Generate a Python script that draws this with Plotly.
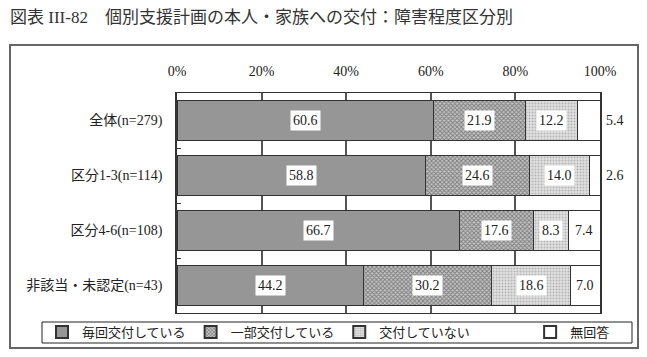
import plotly.graph_objects as go

categories = ["全体(n=279)", "区分1-3(n=114)", "区分4-6(n=108)", "非該当・未認定(n=43)"]
series_names = ["毎回交付している", "一部交付している", "交付していない", "無回答"]
every_time = [60.6, 58.8, 66.7, 44.2]
partial = [21.9, 24.6, 17.6, 30.2]
not_given = [12.2, 14.0, 8.3, 18.6]
no_answer = [5.4, 2.6, 7.4, 7.0]
x_ticks = [0, 20, 40, 60, 80, 100]
x_tick_labels = ["0%", "20%", "40%", "60%", "80%", "100%"]
title_text = "図表 III-82　個別支援計画の本人・家族への交付：障害程度区分別"

series_values = [every_time, partial, not_given, no_answer]

W, H = 647, 357
PL, PR, PT, PB = 177, 600, 93, 313
pw, ph = PR - PL, PB - PT

def px(x):
    return (x - PL) / pw

def py(y):
    return (PB - y) / ph

SERIF = "Liberation Serif, 'Noto Sans CJK JP', serif"

styles = [
    dict(color="#969696", pattern=None),
    dict(color="white", pattern=dict(shape="x", fgcolor="#333333", bgcolor="#c4c4c4", size=3, solidity=0.5)),
    dict(color="white", pattern=dict(shape=".", fgcolor="#8a8a8a", bgcolor="#e0e0e0", size=3, solidity=0.35)),
    dict(color="white", pattern=None),
]

fig = go.Figure()
legend_names = [series_names[0], series_names[1],
                series_names[2] + "\u3000\u3000\u3000\u3000\u00a0",
                series_names[3]]
for name, lname, vals, st in zip(series_names, legend_names, series_values, styles):
    marker = dict(color=st["color"], line=dict(color="#333333", width=1))
    if st["pattern"]:
        marker["pattern"] = st["pattern"]
    fig.add_trace(go.Bar(
        y=categories, x=vals, name=lname, orientation="h",
        marker=marker, width=0.72, hoverinfo="skip"))

annotations = []
for ci, cat in enumerate(categories):
    cum = 0.0
    for si, vals in enumerate(series_values):
        v = vals[ci]
        mid = cum + v / 2
        if si == 3 and v < 6:
            annotations.append(dict(x=100, y=cat, xref="x", yref="y", text=f"{v:.1f}",
                                    showarrow=False, xanchor="left", xshift=4,
                                    font=dict(family=SERIF, size=14, color="#222")))
        else:
            annotations.append(dict(x=mid, y=cat, xref="x", yref="y", text=f"{v:.1f}",
                                    showarrow=False, bgcolor="white", borderpad=2,
                                    font=dict(family=SERIF, size=14, color="#222")))
        cum += v

annotations.append(dict(x=px(8), y=py(17), xref="paper", yref="paper", text=title_text,
                        showarrow=False, xanchor="left", yanchor="middle",
                        font=dict(family=SERIF, size=17, color="#333")))

shapes = [
    dict(type="rect", xref="paper", yref="paper",
         x0=px(10), x1=px(638), y0=py(348), y1=py(45),
         line=dict(color="#666666", width=2), fillcolor="rgba(0,0,0,0)", layer="below"),
    dict(type="rect", xref="paper", yref="paper",
         x0=px(42), x1=px(632), y0=py(343), y1=py(322),
         line=dict(color="#222222", width=1), fillcolor="rgba(0,0,0,0)", layer="above"),
]

fig.update_layout(
    width=W, height=H,
    margin=dict(l=PL, r=W - PR, t=PT, b=H - PB, autoexpand=False),
    barmode="stack", bargap=0.28,
    paper_bgcolor="white", plot_bgcolor="white",
    font=dict(family=SERIF, size=13, color="#222"),
    xaxis=dict(side="top", range=[0, 100], tickvals=x_ticks, ticktext=x_tick_labels,
               showgrid=True, gridcolor="#555555", gridwidth=1.5,
               ticks="outside", ticklen=10, tickcolor="rgba(0,0,0,0)",
               showline=True, linecolor="#333333", linewidth=1, mirror=True,
               zeroline=False, tickfont=dict(family=SERIF, size=14, color="#222"), fixedrange=True),
    yaxis=dict(autorange="reversed", ticks="inside", ticklen=4, tickson="boundaries",
               tickcolor="#333333", showline=True, linecolor="#333333", linewidth=1.5, mirror=True,
               ticklabelstandoff=10, tickfont=dict(family=SERIF, size=14, color="#222"), fixedrange=True),
    legend=dict(orientation="h", x=px(42), y=py(317), xanchor="left", yanchor="top",
                borderwidth=0, bgcolor="rgba(0,0,0,0)",
                font=dict(family=SERIF, size=13, color="#222"), traceorder="normal",
                itemsizing="constant", tracegroupgap=0),
    annotations=annotations, shapes=shapes, showlegend=True,
)

fig.write_html("out.html", config={"displayModeBar": False},
               post_script="document.body.style.margin='0';document.body.style.overflow='hidden';")
